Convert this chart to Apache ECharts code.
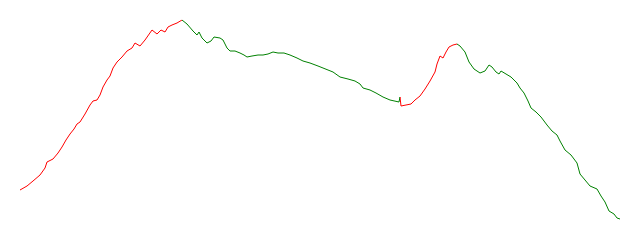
<!DOCTYPE html>
<html><head><meta charset="utf-8">
<script src="https://cdn.jsdelivr.net/npm/echarts@6/dist/echarts.min.js"></script>
<style>html,body{margin:0;padding:0;background:#fff}#c{width:640px;height:240px}</style>
</head><body><div id="c"></div>
<script>
// x positions (arbitrary units) and values
const xs = [0,7,13,20,25,27,33,38,42,46,50,54,57,60,65,70,73,77,80,83,87,90,93,97,102,107,112,115,120,125,132,137,141,145,148,152,157,162,
 167,173,177,179,182,187,191,194,196,200,203,207,210,215,220,224,227,232,238,243,248,253,258,264,270,277,283,290,298,
 313,320,328,335,340,343,350,356,363,370,379,380,381,383,391,395,400,405,410,415,417,420,423,426,429,433,437,
 440,445,449,454,460,465,469,472,476,479,481,486,491,497,500,504,508,511,516,521,527,532,537,540,545,551,557,560,565,570,577,581,585,589,594,597,600];
const values = [30,34,39,45,52,58,61,67,73,80,86,91,96,98,106,115,119,120,125,133,140,144,152,158,163,169,172,177,174,180,190,186,190,188,193,195,197,200,
 196,189,185,188,182,177,179,183,181,182,180,172,169,169,167,165,163,164,165,165,166,168,167,167,165,162,159,157,154,
 148,143,141,139,136,132,130,127,123,120,118,123,114,115,116,120,124,131,139,148,156,164,162,168,173,175,176,
 174,168,158,151,147,149,155,153,148,146,149,146,143,137,132,127,119,112,108,103,95,89,85,79,70,65,57,46,40,34,31,24,18,9,6,2,1];
const seriesData = xs.map((x, i) => [x, values[i]]);

const chart = echarts.init(document.getElementById('c'), null, {renderer: 'canvas'});
chart.setOption({
  animation: false,
  grid: {left: 20, right: 20, top: 20, bottom: 20},
  xAxis: {type: 'value', min: 0, max: 600, show: false},
  yAxis: {type: 'value', min: 0, max: 200, show: false},
  visualMap: {
    show: false,
    dimension: 0,
    pieces: [
      {lt: 162, color: 'red'},
      {gte: 162, lt: 380.5, color: 'green'},
      {gte: 380.5, lt: 437, color: 'red'},
      {gte: 437, color: 'green'}
    ]
  },
  series: [{
    type: 'line',
    data: seriesData,
    showSymbol: false,
    lineStyle: {width: 1}
  }]
});
</script></body></html>
